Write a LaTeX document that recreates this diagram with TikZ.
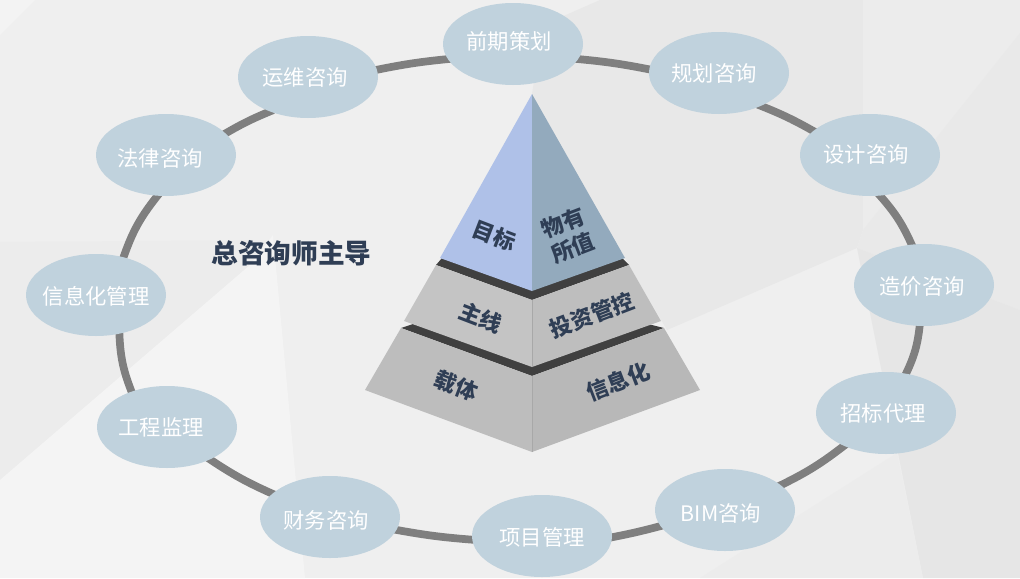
\documentclass[tikz,border=0pt]{standalone}
\usepackage{fontspec}
\setmainfont{Noto Sans CJK SC}
\usetikzlibrary{shapes.geometric}
\pgfdeclarelayer{ringlayer}
\pgfsetlayers{ringlayer,main}
\definecolor{ringgray}{HTML}{7F7F7F}
\definecolor{nodeblue}{HTML}{C0D2DD}
\definecolor{inkdark}{HTML}{2F3E55}
\definecolor{banddark}{HTML}{404040}
\newcommand\svc[3]{\makebox[0pt][c]{\hspace*{\dimexpr 1.5pt*#1\relax}\raisebox{\dimexpr -0.75pt*#2-6pt\relax}[0pt][0pt]{#3}}}
\tikzset{
  x=0.75pt,y=-0.75pt,
  service/.style={ellipse,fill=nodeblue,minimum width=105pt,minimum height=61.5pt,inner sep=0pt,text=white,font=\fontsize{16}{16}\selectfont},
  ring/.style={draw=ringgray,line width=5.8pt,shorten >=-3pt,shorten <=-3pt},
  facelabel/.style={text=inkdark,font=\fontsize{16.5}{20}\selectfont\bfseries,align=center,inner sep=0pt},
  seam/.style={draw={rgb,255:red,168;green,168;blue,168},line width=0.5pt}
}
\begin{document}
\begin{tikzpicture}
\useasboundingbox (0,0) rectangle (1020,578);
\begin{pgfonlayer}{ringlayer}
\fill[fill={rgb,255:red,239;green,239;blue,239}] (0,0) rectangle (1020,578);
\fill[fill={rgb,255:red,243;green,243;blue,243}] (0,0) -- (35,0) -- (0,35) -- cycle;
\fill[fill={rgb,255:red,232;green,232;blue,232}] (543,25) -- (600,0) -- (863,0) -- (863,230) -- (857,248) -- (667,330) -- (625,258) -- (532,94) -- cycle;
\fill[fill={rgb,255:red,236;green,236;blue,236}] (863,0) -- (1020,0) -- (1020,33) -- (863,230) -- cycle;
\fill[fill={rgb,255:red,233;green,233;blue,233}] (1020,33) -- (1020,310) -- (857,248) -- (863,230) -- cycle;
\fill[fill={rgb,255:red,230;green,230;blue,230}] (857,248) -- (1020,310) -- (1020,578) -- (923,578) -- cycle;
\fill[fill={rgb,255:red,236;green,236;blue,236}] (700,578) -- (897,453) -- (923,578) -- cycle;
\fill[fill={rgb,255:red,236;green,236;blue,236}] (0,242) -- (273,240) -- (250,265) -- (0,480) -- cycle;
\fill[fill={rgb,255:red,244;green,244;blue,244}] (0,480) -- (250,265) -- (273,235) -- (305,578) -- (0,578) -- cycle;
\end{pgfonlayer}
% pyramid
\fill[fill=banddark] (442,258) -- (532,285) -- (622,258) -- (629,265) -- (532,300) -- (436,265) -- cycle;
\fill[fill=banddark] (413,324) -- (532,360) -- (648,324) -- (664,328) -- (532,376) -- (401,328) -- cycle;
\fill[fill={rgb,255:red,196;green,196;blue,196}] (436,265) -- (532,300) -- (532,367) -- (404,321) -- cycle;
\fill[fill={rgb,255:red,190;green,190;blue,190}] (629,265) -- (532,300) -- (532,367) -- (661,321) -- cycle;
\fill[fill={rgb,255:red,189;green,189;blue,189}] (401,328) -- (532,376) -- (532,452) -- (365,390) -- cycle;
\fill[fill={rgb,255:red,184;green,184;blue,184}] (664,328) -- (532,376) -- (532,452) -- (700,390) -- cycle;
\fill[fill={rgb,255:red,175;green,193;blue,232}] (532,94) -- (440,258) -- (532,291) -- cycle;
\fill[fill={rgb,255:red,147;green,170;blue,189}] (532,94) -- (625,258) -- (532,291) -- cycle;
\draw[seam] (532,300) -- (532,367);
\draw[seam] (532,376) -- (532,452);
\node[facelabel,rotate=-21] (goal) at (494,236) {目标};
\node[facelabel,rotate=21] (value) at (568,235) {物有\\所值};
\node[facelabel,rotate=-21] (mainline) at (481,318) {主线};
\node[facelabel,rotate=21] (invest) at (592,315) {投资管控};
\node[facelabel,rotate=-21] (carrier) at (456,386) {载体};
\node[facelabel,rotate=21] (infolabel) at (618,382) {信息化};
\node[text=inkdark,font=\fontsize{20}{20}\selectfont\bfseries,inner sep=0pt] (lead) at (291.5,253) {总咨询师主导};
% ring nodes
\node[service] (n1) at (513,44) {\svc{-4}{-3}{前期策划}};
\node[service] (n2) at (719,73) {\svc{-5}{0}{规划咨询}};
\node[service] (n3) at (870,155) {\svc{-4}{-1}{设计咨询}};
\node[service] (n4) at (924,285) {\svc{-2}{1}{造价咨询}};
\node[service] (n5) at (886,413) {\svc{-3}{0}{招标代理}};
\node[service] (n6) at (725,510) {\svc{-4}{3}{BIM咨询}};
\node[service] (n7) at (542,536) {\svc{0}{1}{项目管理}};
\node[service] (n8) at (330,517) {\svc{-4}{3}{财务咨询}};
\node[service] (n9) at (167,427) {\svc{-6}{0}{工程监理}};
\node[service] (n10) at (96,295) {\svc{0}{1}{信息化管理}};
\node[service] (n11) at (166,155) {\svc{-6}{3}{法律咨询}};
\node[service] (n12) at (308,77) {\svc{-3}{0}{运维咨询}};
\begin{pgfonlayer}{ringlayer}
\draw[ring] (n1.-13) to[bend left=3] (n2.177);
\draw[ring] (n2.-38) to[bend left=4] (n3.157);
\draw[ring] (n3.-76) to[bend left=9] (n4.107);
\draw[ring] (n4.-96) to[bend left=10] (n5.63);
\draw[ring] (n5.-142) to[bend left=6] (n6.24);
\draw[ring] (n6.194) to[bend left=2] (n7.-1);
\draw[ring] (n7.183) to[bend left=3] (n8.-11);
\draw[ring] (n8.158) to[bend left=5] (n9.-37);
\draw[ring] (n9.135) to[bend left=10] (n10.-59);
\draw[ring] (n10.54) to[bend left=10] (n11.-102);
\draw[ring] (n11.20) to[bend left=4] (n12.222);
\draw[ring] (n12.6) to[bend left=3] (n1.193);
\end{pgfonlayer}
\end{tikzpicture}
\end{document}
